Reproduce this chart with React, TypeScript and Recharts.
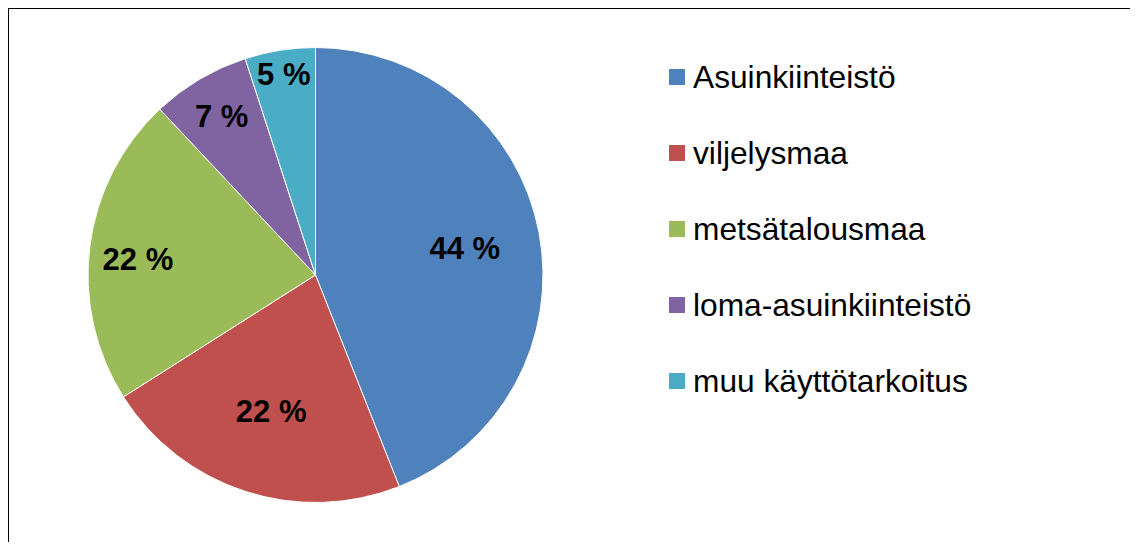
import React from 'react';
import { PieChart, Pie, Cell, Legend } from 'recharts';

const categories = ['Asuinkiinteistö', 'viljelysmaa', 'metsätalousmaa', 'loma-asuinkiinteistö', 'muu käyttötarkoitus'];
const shares = [44, 22, 22, 7, 5];
const colors = ['#4F81BD', '#C0504D', '#9BBB59', '#8064A2', '#4BACC6'];
const labelRadiusFactor = [0.668, 0.63, 0.787, 0.81, 0.89];
const labelNudgeY = [2, 0, 7, 0, -1];

const data = categories.map((name, i) => ({ name, value: shares[i], fill: colors[i] }));

const FONT = '"Liberation Sans", Arial, sans-serif';
const RAD = Math.PI / 180;

const renderLabel = (props: any) => {
  const { cx, cy, midAngle, outerRadius, index, value } = props;
  const r = outerRadius * labelRadiusFactor[index];
  const x = cx + r * Math.cos(-midAngle * RAD);
  const y = cy + r * Math.sin(-midAngle * RAD) + labelNudgeY[index];
  return (
    <text x={x} y={y} textAnchor="middle" dominantBaseline="central" fill="#000" fontFamily={FONT} fontWeight="bold" fontSize={31}>
      {`${value} %`}
    </text>
  );
};

const renderLegend = (props: any) => {
  const payload = [...(props.payload || [])].sort(
    (a: any, b: any) => categories.indexOf(a.value) - categories.indexOf(b.value)
  );
  return (
    <div style={{ fontFamily: FONT, fontSize: 31.7, color: '#000' }}>
      {payload.map((entry: any, i: number) => (
        <div key={i} style={{ display: 'flex', alignItems: 'center', height: 76, lineHeight: '76px', whiteSpace: 'nowrap' }}>
          <span style={{ display: 'inline-block', width: 16, height: 16, background: entry.color, marginRight: 8 }} />
          <span>{entry.value}</span>
        </div>
      ))}
    </div>
  );
};

export default function App() {
  return (
    <div style={{ position: 'relative', width: 1138, height: 550, margin: -8, overflow: 'hidden', background: '#fff' }}>
      <div style={{ position: 'absolute', left: 7, top: 7, width: 1126, height: 600, borderTop: '2px solid #000', borderLeft: '2px solid #000', borderRight: '2px solid #444', boxSizing: 'content-box' }} />
      <div style={{ position: 'absolute', left: 0, top: 0 }}>
        <PieChart width={1138} height={550} margin={{ top: 0, right: 0, bottom: 0, left: 0 }}>
          <Pie
            data={data}
            dataKey="value"
            nameKey="name"
            cx={315.5}
            cy={275}
            outerRadius={227.5}
            startAngle={90}
            endAngle={-270}
            stroke="#fff"
            strokeWidth={1}
            label={renderLabel}
            labelLine={false}
            isAnimationActive={false}
          >
            {data.map((d, i) => (
              <Cell key={i} fill={colors[i]} />
            ))}
          </Pie>
          <Legend
            layout="vertical"
            content={renderLegend}
            wrapperStyle={{ position: 'absolute', left: 669, top: 38.7, width: 420 }}
          />
        </PieChart>
      </div>
    </div>
  );
}
